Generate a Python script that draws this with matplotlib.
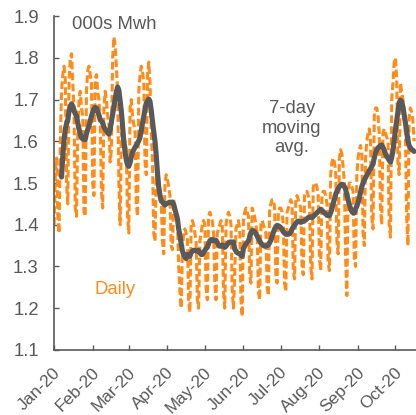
import pandas as pd
import matplotlib
matplotlib.use("Agg")
import matplotlib.pyplot as plt
import matplotlib.dates as mdates
import matplotlib.transforms as mtransforms

# daily demand, 000s Mwh (Jan 1 - Oct 16 2020)
daily = [
    1.40, 1.52, 1.56, 1.42, 1.38,                    # Jan 1-5
    1.60, 1.72, 1.76, 1.78, 1.75, 1.50, 1.45,        # Jan 6-12
    1.74, 1.80, 1.81, 1.74, 1.68, 1.44, 1.42,        # Jan 13-19
    1.62, 1.70, 1.72, 1.68, 1.66, 1.43, 1.42,        # Jan 20-26
    1.72, 1.77, 1.78, 1.76, 1.74, 1.50, 1.47,        # Jan 27-Feb 2
    1.75, 1.76, 1.72, 1.70, 1.66, 1.48, 1.44,        # Feb 3-9
    1.68, 1.72, 1.70, 1.66, 1.64, 1.55, 1.58,        # Feb 10-16
    1.80, 1.85, 1.83, 1.78, 1.72, 1.50, 1.40,        # Feb 17-23
    1.62, 1.60, 1.58, 1.60, 1.58, 1.42, 1.38,        # Feb 24-Mar 1
    1.68, 1.70, 1.66, 1.64, 1.62, 1.45, 1.42,        # Mar 2-8
    1.72, 1.76, 1.78, 1.77, 1.74, 1.55, 1.52,        # Mar 9-15
    1.76, 1.79, 1.74, 1.62, 1.55, 1.38, 1.36,        # Mar 16-22
    1.52, 1.50, 1.50, 1.48, 1.46, 1.36, 1.33,        # Mar 23-29
    1.50, 1.52, 1.51, 1.49, 1.47, 1.35, 1.34,        # Mar 30-Apr 5
    1.46, 1.44, 1.43, 1.41, 1.30, 1.24, 1.20,        # Apr 6-12
    1.34, 1.38, 1.39, 1.38, 1.37, 1.22, 1.19,        # Apr 13-19
    1.40, 1.41, 1.40, 1.38, 1.36, 1.22, 1.20,        # Apr 20-26
    1.36, 1.38, 1.40, 1.41, 1.40, 1.25, 1.22,        # Apr 27-May 3
    1.42, 1.43, 1.42, 1.41, 1.38, 1.26, 1.22,        # May 4-10
    1.38, 1.39, 1.40, 1.41, 1.40, 1.24, 1.20,        # May 11-17
    1.40, 1.42, 1.43, 1.42, 1.40, 1.24, 1.20,        # May 18-24
    1.28, 1.39, 1.40, 1.41, 1.39, 1.22, 1.18,        # May 25-31
    1.41, 1.43, 1.44, 1.43, 1.42, 1.28, 1.26,        # Jun 1-7
    1.44, 1.43, 1.42, 1.40, 1.38, 1.24, 1.22,        # Jun 8-14
    1.40, 1.41, 1.40, 1.39, 1.38, 1.25, 1.23,        # Jun 15-21
    1.44, 1.45, 1.46, 1.46, 1.44, 1.28, 1.26,        # Jun 22-28
    1.43, 1.44, 1.44, 1.43, 1.40, 1.26, 1.24,        # Jun 29-Jul 5
    1.43, 1.44, 1.45, 1.46, 1.45, 1.29, 1.27,        # Jul 6-12
    1.46, 1.47, 1.46, 1.45, 1.44, 1.30, 1.28,        # Jul 13-19
    1.47, 1.48, 1.48, 1.47, 1.45, 1.30, 1.27,        # Jul 20-26
    1.49, 1.50, 1.50, 1.49, 1.47, 1.32, 1.29,        # Jul 27-Aug 2
    1.47, 1.48, 1.48, 1.47, 1.45, 1.31, 1.29,        # Aug 3-9
    1.52, 1.55, 1.56, 1.55, 1.53, 1.36, 1.33,        # Aug 10-16
    1.56, 1.58, 1.57, 1.54, 1.50, 1.32, 1.23,        # Aug 17-23
    1.48, 1.50, 1.50, 1.49, 1.48, 1.32, 1.30,        # Aug 24-30
    1.52, 1.56, 1.58, 1.59, 1.57, 1.38, 1.35,        # Aug 31-Sep 6
    1.56, 1.60, 1.62, 1.63, 1.60, 1.42, 1.39,        # Sep 7-13
    1.66, 1.68, 1.68, 1.66, 1.62, 1.44, 1.40,        # Sep 14-20
    1.62, 1.63, 1.62, 1.61, 1.60, 1.40, 1.37,        # Sep 21-27
    1.70, 1.74, 1.79, 1.80, 1.75, 1.55, 1.52,        # Sep 28-Oct 4
    1.74, 1.72, 1.70, 1.66, 1.62, 1.42, 1.35,        # Oct 5-11
    1.66, 1.68, 1.67, 1.65, 1.60,                    # Oct 12-16
]

dates = pd.date_range("2020-01-01", periods=len(daily), freq="D")
s = pd.Series(daily, index=dates)
ma7 = s.rolling(7).mean()

orange = "#FF8C1A"
gray = "#595959"

plt.rcParams["font.family"] = ["Liberation Sans", "DejaVu Sans"]
plt.rcParams["font.size"] = 13.3

fig = plt.figure(figsize=(4.16, 4.15), dpi=100)
ax = fig.add_axes([0.13, 0.157, 0.87, 0.804])

ax.plot(s.index, s.values, color=orange, lw=2.2, dashes=(2.5, 1.1),
        dash_capstyle="butt")
ax.plot(ma7.index, ma7.values, color=gray, lw=3.7, solid_capstyle="round",
        solid_joinstyle="round")

ax.set_ylim(1.1, 1.9)
ax.set_yticks([1.1, 1.2, 1.3, 1.4, 1.5, 1.6, 1.7, 1.8, 1.9])
ax.set_xlim(pd.Timestamp("2020-01-01"), pd.Timestamp("2020-01-01") + pd.Timedelta(days=290.5))
ax.xaxis.set_major_locator(mdates.MonthLocator())
ax.xaxis.set_major_formatter(mdates.DateFormatter("%b-%y"))

for side in ["top", "right"]:
    ax.spines[side].set_visible(False)
for side in ["left", "bottom"]:
    ax.spines[side].set_color(gray)
    ax.spines[side].set_linewidth(1.2)

ax.tick_params(axis="both", direction="in", length=3.5, width=1.0, color=gray,
               labelcolor=gray)
ax.tick_params(axis="y", pad=11, labelsize=13.3)
ax.tick_params(axis="x", pad=14.5, labelsize=12.4)
shift = mtransforms.ScaledTranslation(0.04, 0, fig.dpi_scale_trans)
for lab in ax.get_xticklabels():
    lab.set_rotation(45)
    lab.set_ha("right")
    lab.set_va("center")
    lab.set_rotation_mode("anchor")
    lab.set_transform(lab.get_transform() + shift)

ax.text(0.05, 0.975, "000s Mwh", transform=ax.transAxes, color=gray,
        fontsize=13.3, ha="left", va="center")
ax.text(0.657, 0.664, "7-day\nmoving\navg.", transform=ax.transAxes, color=gray,
        fontsize=13.3, ha="center", va="center", linespacing=1.2)
ax.text(0.168, 0.182, "Daily", transform=ax.transAxes, color=orange,
        fontsize=13.3, ha="center", va="center")

fig.savefig("out.png", dpi=100)
